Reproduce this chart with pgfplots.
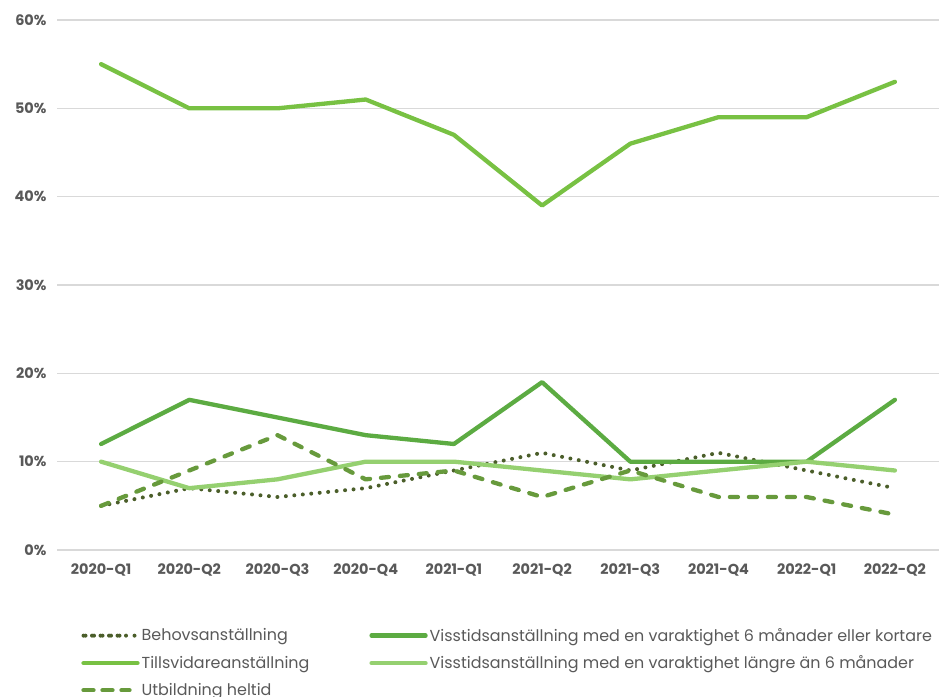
\documentclass[border=0pt]{standalone}
\usepackage{fontspec}
\setmainfont{Poppins}
\usepackage{pgfplots}
\pgfplotsset{compat=1.18}
\definecolor{tillsvidare}{HTML}{78C143}
\definecolor{kort}{HTML}{5CAB42}
\definecolor{lang}{HTML}{95D070}
\definecolor{behov}{HTML}{4B5E2A}
\definecolor{utb}{HTML}{679A3C}
\definecolor{gridgray}{HTML}{D9D9D9}
\definecolor{tickgray}{HTML}{595959}
\begin{document}
\begin{tikzpicture}
\begin{axis}[
  scale only axis, width=882bp, height=530bp,
  xmin=-0.5, xmax=9.5, ymin=0, ymax=60,
  xtick={0,...,9},
  xticklabels={2020-Q1,2020-Q2,2020-Q3,2020-Q4,2021-Q1,2021-Q2,2021-Q3,2021-Q4,2022-Q1,2022-Q2},
  ytick={0,10,...,60},
  yticklabel={\pgfmathprintnumber{\tick}\%},
  /pgf/number format/assume math mode=true,
  axis line style={draw=none},
  major tick length=0pt,
  ymajorgrids, grid style={draw=gridgray, line width=1.3bp},
  tick label style={font=\fontsize{14.5}{17}\selectfont\bfseries, text=tickgray},
  xticklabel style={yshift=-10bp},
  yticklabel style={xshift=-7bp},
  legend style={at={(0.024,-0.14)}, anchor=north west, draw=none, fill=none,
    font=\fontsize{16}{19}\selectfont, text=tickgray,
    /tikz/every even column/.append style={column sep=58bp},
    row sep=9bp},
  legend columns=2, legend cell align=left,
  legend image code/.code={\draw[#1] (2bp,0bp) -- (40bp,0bp); \path (0bp,0bp) -- (54bp,0bp);},
  every axis plot/.append style={line join=round},
]
\addplot[behov, line width=4bp, line cap=round, dash pattern=on 0bp off 8.5bp] coordinates {
  (0,5) (1,7) (2,6) (3,7) (4,9) (5,11) (6,9) (7,11) (8,9) (9,7)
};
\addlegendentry{Behovsanställning}
\addplot[kort, line width=4.3bp, line cap=round] coordinates {
  (0,12) (1,17) (2,15) (3,13) (4,12) (5,19) (6,10) (7,10) (8,10) (9,17)
};
\addlegendentry{Visstidsanställning med en varaktighet 6 månader eller kortare}
\addplot[tillsvidare, line width=4.3bp, line cap=round] coordinates {
  (0,55) (1,50) (2,50) (3,51) (4,47) (5,39) (6,46) (7,49) (8,49) (9,53)
};
\addlegendentry{Tillsvidareanställning}
\addplot[lang, line width=4.3bp, line cap=round] coordinates {
  (0,10) (1,7) (2,8) (3,10) (4,10) (5,9) (6,8) (7,9) (8,10) (9,9)
};
\addlegendentry{Visstidsanställning med en varaktighet längre än 6 månader}
\addplot[utb, line width=4.3bp, line cap=round, dash pattern=on 8bp off 11bp] coordinates {
  (0,5) (1,9) (2,13) (3,8) (4,9) (5,6) (6,9) (7,6) (8,6) (9,4)
};
\addlegendentry{Utbildning heltid}
\end{axis}
\pgfresetboundingbox
\path ([shift={(-57bp,-147bp)}]current axis.south west) rectangle ([shift={(882bp,550bp)}]current axis.south west);
\end{tikzpicture}
\end{document}
